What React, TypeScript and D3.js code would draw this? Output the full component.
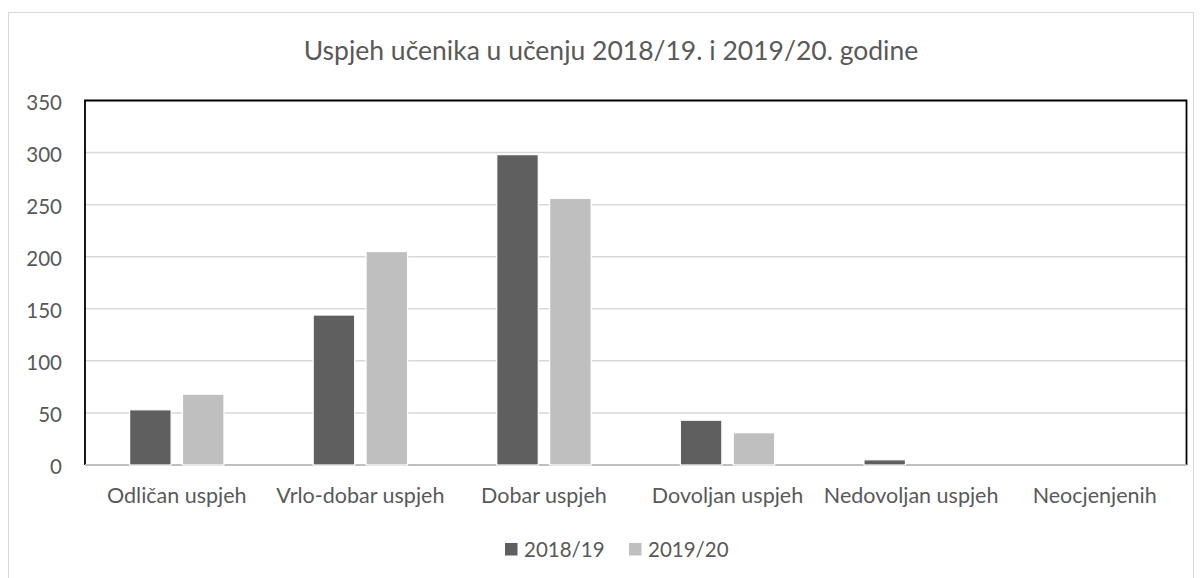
import React from "react";
import * as d3 from "d3";

const categories = [
  "Odličan uspjeh",
  "Vrlo-dobar uspjeh",
  "Dobar uspjeh",
  "Dovoljan uspjeh",
  "Nedovoljan uspjeh",
  "Neocjenjenih",
];
const series = ["2018/19", "2019/20"];
const values2018 = [53, 144, 298, 43, 5, 0];
const values2019 = [68, 205, 256, 31, 0, 0];
const yTicks = [0, 50, 100, 150, 200, 250, 300, 350];
const title = "Uspjeh učenika u učenju 2018/19. i 2019/20. godine";

const W = 1202;
const H = 578;
const FONT = "Lato, 'Open Sans', sans-serif";
const TEXT = "#595959";
const COLORS = ["#5f5f5f", "#bfbfbf"];

export default function App() {
  const left = 85;
  const right = 1186.5;
  const top = 100.5;
  const bottom = 465;

  const x = d3.scaleBand<string>().domain(categories).range([left, right]);
  const y = d3.scaleLinear().domain([0, 350]).range([bottom, top]);
  const bw = x.bandwidth();
  const barW = bw * 0.226;
  const gap = bw * 0.062;

  const data = [values2018, values2019];

  return (
    <svg
      width={W}
      height={H}
      style={{ position: "absolute", left: 0, top: 0, background: "#fff" }}
    >
      <rect x={0} y={0} width={W} height={H} fill="#fff" />
      <rect
        x={8.5}
        y={12.5}
        width={1185}
        height={620}
        fill="#fff"
        stroke="#d9d9d9"
        strokeWidth={1}
      />
      <text
        x={611}
        y={60}
        textAnchor="middle"
        fontFamily={FONT}
        fontSize={26.5}
        fill={TEXT}
      >
        {title}
      </text>

      {yTicks.map((t) => (
        <g key={t}>
          {t > 0 && t < 350 && (
            <line
              x1={left}
              x2={right}
              y1={y(t)}
              y2={y(t)}
              stroke="#d9d9d9"
              strokeWidth={1.5}
            />
          )}
          <text
            x={62}
            y={y(t) + 2}
            dy="0.35em"
            textAnchor="end"
            fontFamily={FONT}
            fontSize={20.5}
            fill={TEXT}
          >
            {t}
          </text>
        </g>
      ))}

      {/* plot border */}
      <path
        d={`M${left},${bottom} L${left},${top} L${right},${top} L${right},${bottom}`}
        fill="none"
        stroke="#000"
        strokeWidth={1.8}
      />
      {/* category axis */}
      <line
        x1={left}
        x2={right}
        y1={bottom}
        y2={bottom}
        stroke="#bfbfbf"
        strokeWidth={2}
      />

      {categories.map((c, i) => {
        const cx = (x(c) as number) + bw / 2;
        return (
          <g key={c}>
            {data.map((vals, s) => {
              const v = vals[i];
              if (v <= 0) return null;
              const bx = s === 0 ? cx - gap / 2 - barW : cx + gap / 2;
              return (
                <rect
                  key={s}
                  x={bx}
                  y={y(v)}
                  width={barW}
                  height={bottom - y(v)}
                  fill={COLORS[s]}
                  stroke="#ffffff"
                  strokeWidth={1.2}
                />
              );
            })}
            <text
              x={cx}
              y={503}
              textAnchor="middle"
              fontFamily={FONT}
              fontSize={21.5}
              fill={TEXT}
            >
              {c}
            </text>
          </g>
        );
      })}

      {/* legend */}
      {series.map((s, i) => {
        const lx = i === 0 ? 505 : 629;
        return (
          <g key={s}>
            <rect x={lx} y={543} width={12.5} height={12.5} fill={COLORS[i]} />
            <text
              x={lx + 19}
              y={557}
              fontFamily={FONT}
              fontSize={20.5}
              fill={TEXT}
            >
              {s}
            </text>
          </g>
        );
      })}
    </svg>
  );
}
